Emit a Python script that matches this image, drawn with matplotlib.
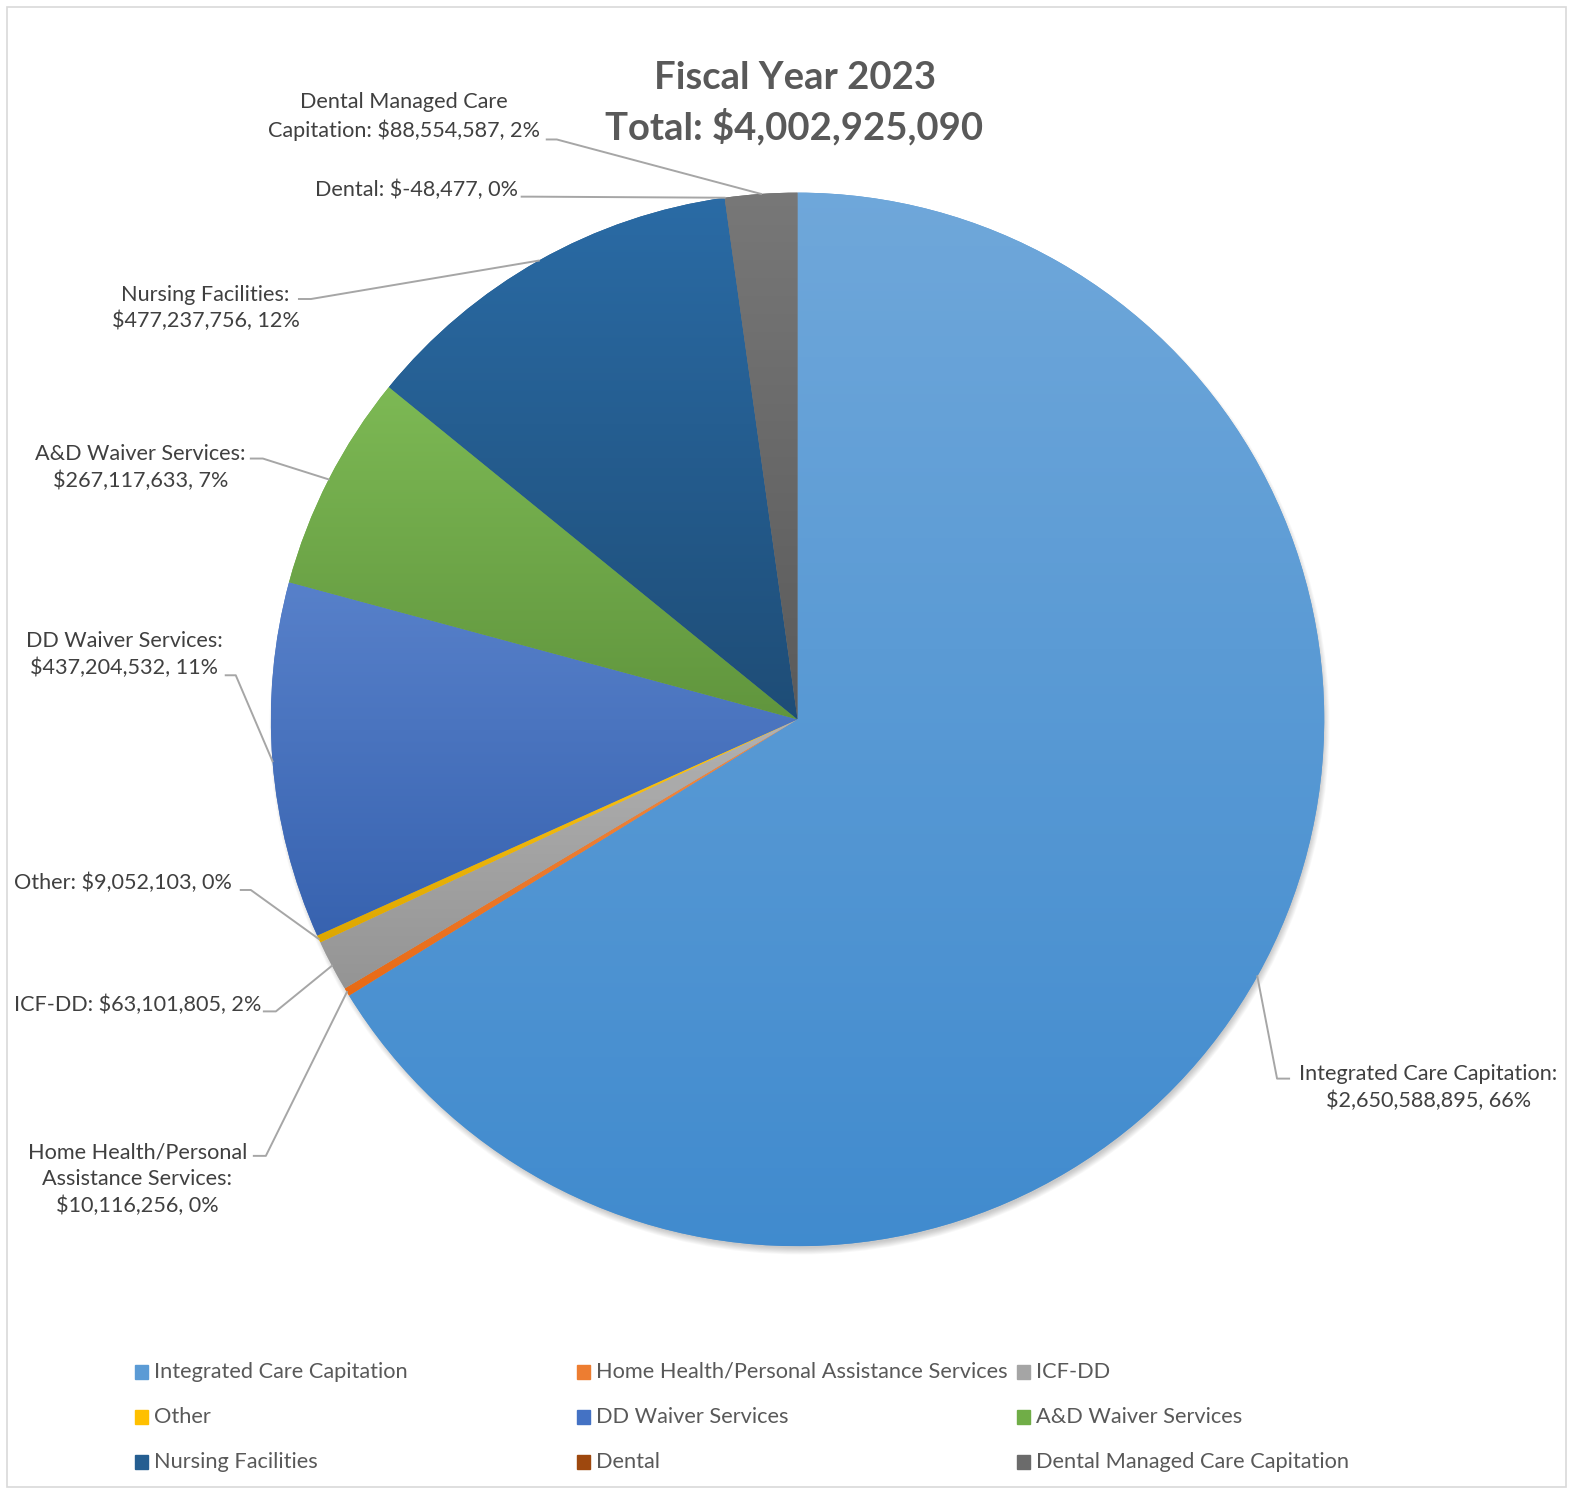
#!/usr/bin/env python3

import colorsys
import numpy as np
import matplotlib.pyplot as plt
from matplotlib.patches import Rectangle, Circle
from matplotlib.colors import to_rgb

# chart data
categories = [
    "Integrated Care Capitation",
    "Home Health/Personal Assistance Services",
    "ICF-DD",
    "Other",
    "DD Waiver Services",
    "A&D Waiver Services",
    "Nursing Facilities",
    "Dental",
    "Dental Managed Care Capitation",
]
amounts = [2650588895, 10116256, 63101805, 9052103, 437204532,
           267117633, 477237756, -48477, 88554587]
total = 4002925090
title = f"Fiscal Year 2023\nTotal: ${total:,}"

# styling / layout
colors = ["#5B9BD5", "#ED7D31", "#A5A5A5", "#FFC000", "#4472C4",
          "#70AD47", "#255E91", "#9E480E", "#6B6B6B"]
W, H = 1568, 1486          # layout coords (as in the reference)
cx, cy, R = 795, 717, 525  # pie centre / radius
# where each label sits: text centre, elbow of leader, end of leader
label_xy = [(1424, 1084), (137, 1175), (137, 1002), (123, 880), (124, 652),
            (140, 466), (205, 307), (415, 189), (403, 116)]
label_elbow = [(1273, 1075), (265, 1152), (275, 1008), (250, 887),
               (235, 673), (262, 457), (310, 298), (530, 196), (555, 139)]
label_end = [1285, 253, 263, 240, 225, 250, 298, 520, 545]
label_split = [True, "hh", False, False, True, True, True, False, "dmc"]

TEXT = "#404040"
font = "Lato"
LABEL_FS = 15.6


def Y(y):
    return H - y


def make_label(name, value, mode):
    pct = int(round(value / total * 100))
    money = f"${value:,}, {pct}%"
    if mode == "hh":
        return "Home Health/Personal\nAssistance Services:\n" + money
    if mode == "dmc":
        return "Dental Managed Care\nCapitation: " + money
    if mode:
        return f"{name}:\n{money}"
    return f"{name}: {money}"


def shift_light(c, dl):
    h, l, s = colorsys.rgb_to_hls(*to_rgb(c))
    return colorsys.hls_to_rgb(h, min(max(l + dl, 0), 1), s)


fig = plt.figure(figsize=(15.73, 14.91), dpi=100)
ax = fig.add_axes([0, 0, 1, 1])

# outer chart border
ax.add_patch(Rectangle((7, Y(1482)), W - 14, 1475, fill=False,
                       edgecolor="#D9D9D9", linewidth=1.2))

# soft shadow under the pie, mostly towards the bottom
for k in range(8):
    ax.add_patch(Circle((cx + 2, Y(cy) - 5), R - 3 + k * 0.9,
                        color="black", alpha=0.028, linewidth=0, zorder=0.5))

sizes = np.clip(np.array(amounts, dtype=float), 0, None)
wedges, _ = ax.pie(sizes, colors=colors, startangle=90, counterclock=False,
                   center=(cx, Y(cy)), radius=R, frame=True,
                   wedgeprops=dict(linewidth=0))

# vertical gradient on each slice (lighter top, darker bottom)
for w, c in zip(wedges, colors):
    if w.theta2 - w.theta1 <= 0:
        continue
    bb = w.get_path().get_extents()
    top = np.array(shift_light(c, 0.05))
    bot = np.array(shift_light(c, -0.065))
    t = np.linspace(0, 1, 256)[:, None]
    grad = bot[None, :] * (1 - t) + top[None, :] * t
    img = ax.imshow(grad[:, None, :], extent=(bb.x0, bb.x1, bb.y0, bb.y1),
                    origin="lower", aspect="auto", zorder=w.get_zorder() + 0.1)
    img.set_clip_path(w)

ax.set_xlim(0, W)
ax.set_ylim(0, H)
ax.set_aspect("auto")
ax.axis("off")

# data labels with leader lines
for w, name, val, xy, elb, xe, mode in zip(wedges, categories, amounts, label_xy,
                                            label_elbow, label_end, label_split):
    mid = np.deg2rad((w.theta1 + w.theta2) / 2)
    ex, ey = cx + R * np.cos(mid), Y(cy) + R * np.sin(mid)
    ax.plot([ex, elb[0], xe], [ey, Y(elb[1]), Y(elb[1])],
            color="#A6A6A6", linewidth=1.4, zorder=5)
    ax.text(xy[0], Y(xy[1]), make_label(name, val, mode), ha="center",
            va="center", multialignment="center", fontsize=LABEL_FS,
            linespacing=1.4, color=TEXT, fontfamily=font, zorder=6)

ax.text(792, Y(103), title, ha="center", va="center", fontsize=27.5,
        fontweight="bold", color="#595959", linespacing=1.42, fontfamily=font)

# legend, three columns like the original
col_x = [135, 575, 1014]
row_y = [1367, 1412, 1457]
for i, (name, c) in enumerate(zip(categories, colors)):
    x0 = col_x[i % 3]
    y0 = row_y[i // 3]
    ax.add_patch(Rectangle((x0, Y(y0) - 7), 13, 14, color=c))
    ax.text(x0 + 19, Y(y0), name, ha="left", va="center", fontsize=15.7,
            color="#595959", fontfamily=font)

fig.savefig("out.png", dpi=100)
